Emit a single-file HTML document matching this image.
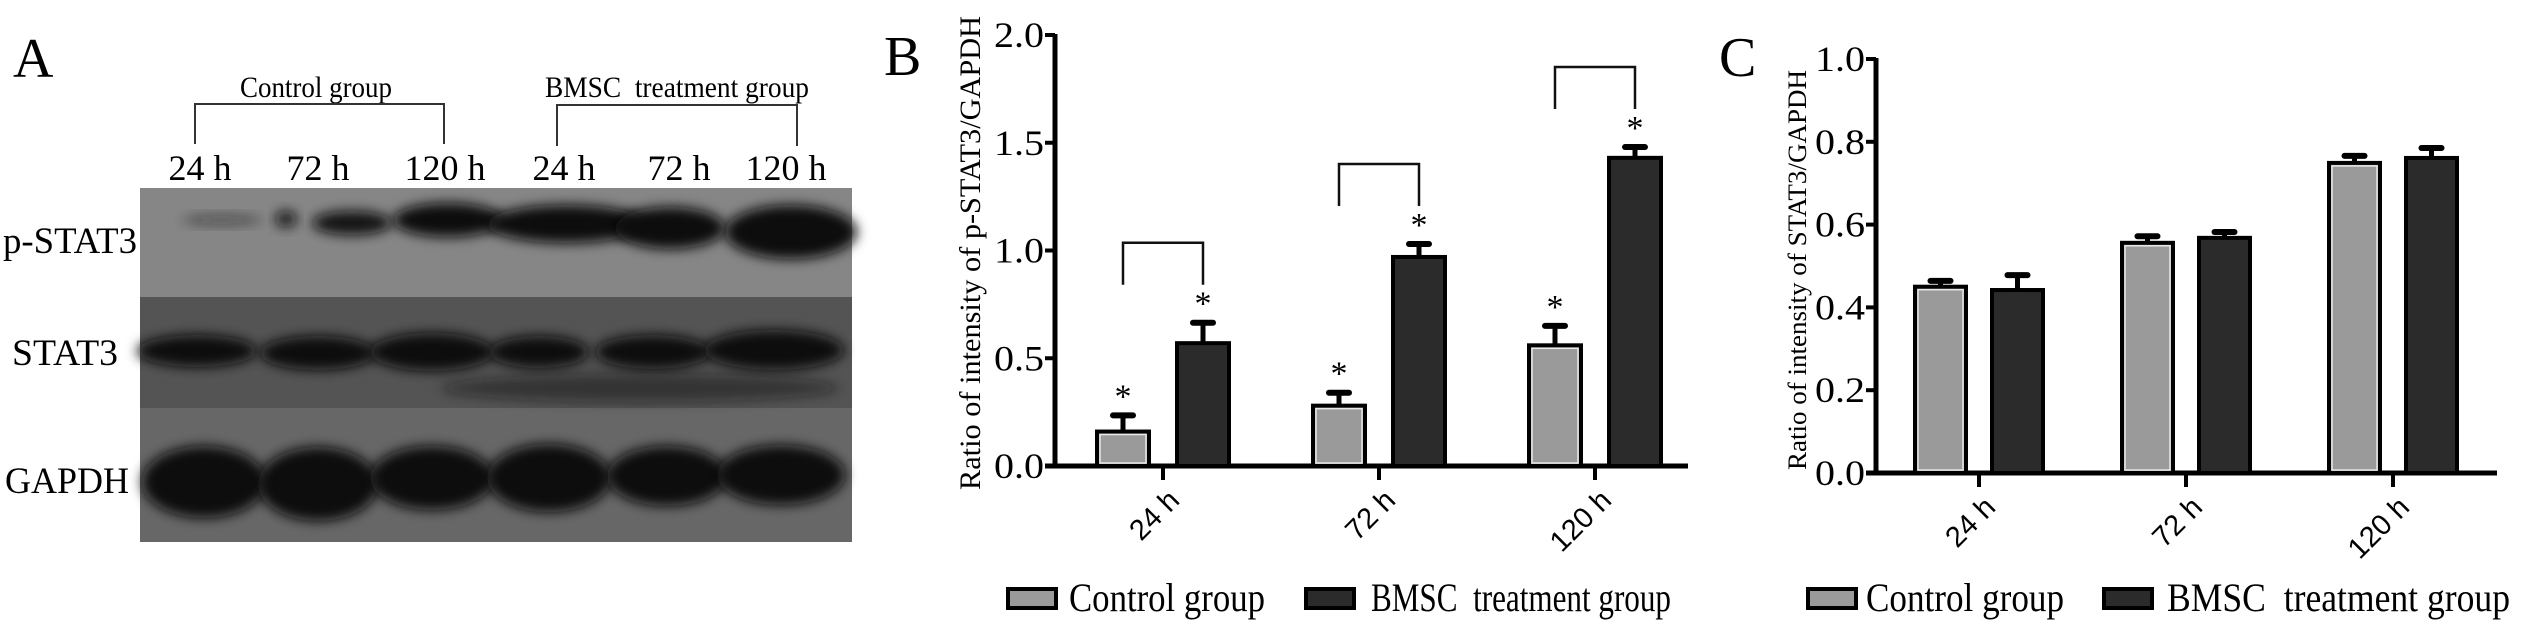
<!DOCTYPE html>
<html><head><meta charset="utf-8">
<style>
html,body{margin:0;padding:0;background:#fff;}
svg{display:block;}
.serif{font-family:"Liberation Serif",serif;}
.sans{font-family:"Liberation Sans",sans-serif;}
.pre{white-space:pre;}
</style></head>
<body>
<svg id="fig" width="2528" height="627" viewBox="0 0 2528 627" xmlns="http://www.w3.org/2000/svg">
<defs>
<filter id="blur6" x="-30%" y="-60%" width="160%" height="220%"><feGaussianBlur stdDeviation="6"/></filter>
</defs>

<g id="panelA">
<text x="13" y="77" class="serif" font-size="56">A</text>
<text x="240" y="97" class="serif" font-size="30" textLength="152" lengthAdjust="spacingAndGlyphs">Control group</text>
<path d="M195,144 V104 H444 V144" fill="none" stroke="#333" stroke-width="2"/>
<text x="545" y="97" class="serif pre" font-size="30" textLength="264" lengthAdjust="spacingAndGlyphs">BMSC  treatment group</text>
<path d="M557,146 V105 H797 V146" fill="none" stroke="#333" stroke-width="2"/>
<g id="laneLabels"></g>
<rect x="140" y="188" width="712" height="109" fill="#868686"/>
<rect x="140" y="297" width="712" height="111" fill="#545454"/>
<rect x="140" y="408" width="712" height="134" fill="#676767"/>
<g id="bands"></g>
<text x="3" y="253" class="serif" font-size="37" textLength="134" lengthAdjust="spacingAndGlyphs">p-STAT3</text>
<text x="12" y="365" class="serif" font-size="37" textLength="106" lengthAdjust="spacingAndGlyphs">STAT3</text>
<text x="5" y="493" class="serif" font-size="37" textLength="124" lengthAdjust="spacingAndGlyphs">GAPDH</text>
</g>

<g id="panelB"></g>
<g id="panelC"></g>
</svg>

<script>
const categories = ["24 h", "72 h", "120 h"];
const seriesNames = ["Control group", "BMSC  treatment group"];
const bControl = [0.16, 0.28, 0.56];
const bBmsc = [0.57, 0.97, 1.43];
const bControlErr = [0.075, 0.06, 0.09];
const bBmscErr = [0.095, 0.06, 0.05];
const bTicks = ["0.0", "0.5", "1.0", "1.5", "2.0"];
const bTickValues = [0, 0.5, 1.0, 1.5, 2.0];
const cControl = [0.45, 0.556, 0.749];
const cBmsc = [0.442, 0.568, 0.761];
const cControlErr = [0.014, 0.016, 0.017];
const cBmscErr = [0.036, 0.014, 0.024];
const cTicks = ["0.0", "0.2", "0.4", "0.6", "0.8", "1.0"];
const cTickValues = [0, 0.2, 0.4, 0.6, 0.8, 1.0];
const laneLabels = ["24 h", "72 h", "120 h", "24 h", "72 h", "120 h"];

const NS = "http://www.w3.org/2000/svg";
function mk(tag, attrs, parent) {
  const e = document.createElementNS(NS, tag);
  for (const k in attrs) e.setAttribute(k, attrs[k]);
  parent.appendChild(e);
  return e;
}

const laneCenters = [200, 318, 445, 564, 679, 786];
const ll = document.getElementById("laneLabels");
laneLabels.forEach((t, i) => {
  const e = mk("text", {x: laneCenters[i], y: 180, "text-anchor": "middle", class: "serif", "font-size": 36}, ll);
  e.textContent = t;
  
  
});

const bandsG = document.getElementById("bands");
const bandList = [
  [222,220,40,5,0.45],[286,219,11,8,0.9],[352,223,40,12,0.95],[448,220,55,17,1],
  [567,224,80,19,1],[670,228,55,21,1],[791,232,66,27,1],
  [197,351,60,16,1],[318,353,58,17,1],[432,352,62,19,1],[539,352,50,16,1],[653,352,58,17,1],[774,350,70,20,1],
  [640,388,200,14,0.45],
  [204,482,62,36,1],[318,484,60,37,1],[432,478,62,32,1],[549,478,62,34,1],[667,476,60,30,1],[781,475,64,30,1]
];
bandList.forEach(b => {
  const e = mk("ellipse", {cx: b[0], cy: b[1], rx: b[2], ry: b[3], fill: "#0a0a0a", opacity: b[4], filter: "url(#blur6)"}, bandsG);
  
  
});

function buildChart(cfg) {
  const g = document.getElementById(cfg.id);
  const yScale = v => cfg.y0 - (v - cfg.vmin) / (cfg.vmax - cfg.vmin) * (cfg.y0 - cfg.y1);
  const lbl = mk("text", {x: cfg.labelX, y: cfg.labelY, class: "serif", "font-size": 56}, g);
  lbl.textContent = cfg.label;
  
  
  const yt = mk("text", {x: 0, y: 0, class: "serif", "font-size": cfg.titleSize, "text-anchor": "middle",
    transform: `translate(${cfg.titleX},${cfg.titleY}) rotate(-90)`, textLength: cfg.titleLen, lengthAdjust: "spacingAndGlyphs"}, g);
  yt.textContent = cfg.title;
  
  
  const ya = mk("line", {x1: cfg.ax, y1: yScale(cfg.vmax) - 1, x2: cfg.ax, y2: cfg.y0 + 2, stroke: "#000", "stroke-width": 5}, g);
  
  
  const xa = mk("line", {x1: cfg.ax - 10, y1: cfg.y0, x2: cfg.axEnd, y2: cfg.y0, stroke: "#000", "stroke-width": 5}, g);
  
  
  cfg.tickValues.forEach((v, i) => {
    const y = yScale(v);
    const t = mk("line", {x1: cfg.ax - 10, y1: y, x2: cfg.ax, y2: y, stroke: "#000", "stroke-width": 4}, g);
    
    
    const tl = mk("text", {x: cfg.ax - 11, y: y + 12, "text-anchor": "end", class: "serif", "font-size": 36, textLength: 50, lengthAdjust: "spacingAndGlyphs"}, g);
    tl.textContent = cfg.ticks[i];
    
    
  });
  const barW = cfg.barW;
  categories.forEach((c, i) => {
    const cx = cfg.catX0 + i * cfg.catStep;
    const t = mk("line", {x1: cx, y1: cfg.y0, x2: cx, y2: cfg.y0 + 14, stroke: "#000", "stroke-width": 4}, g);
    
    
    const xl = mk("text", {x: 0, y: 0, "text-anchor": "end", class: "sans", "font-size": 29,
      transform: `translate(${cx + 18},${cfg.y0 + 36}) rotate(-45)`}, g);
    xl.textContent = c;
    
    
    [[cfg.ctrl, cfg.ctrlErr, "#9a9a9a"], [cfg.bmsc, cfg.bmscErr, "#2b2b2b"]].forEach((s, k) => {
      const v = s[0][i], err = s[1][i];
      const bx = cx + (k === 0 ? -cfg.gap / 2 - barW : cfg.gap / 2);
      const top = yScale(v);
      const et = yScale(v + err);
      const el = mk("line", {x1: bx + barW / 2, y1: top, x2: bx + barW / 2, y2: et, stroke: "#000", "stroke-width": 5}, g);
      
      
      const ec = mk("line", {x1: bx + barW / 2 - 10, y1: et, x2: bx + barW / 2 + 10, y2: et, stroke: "#000", "stroke-width": 6, "stroke-linecap": "round"}, g);
      
      
      const r = mk("rect", {x: bx + 2, y: top, width: barW - 4, height: cfg.y0 - top, fill: s[2], stroke: "#000", "stroke-width": 4}, g);
      
      
      if (k === 0) {
        const hi = mk("rect", {x: bx + 5, y: top + 3, width: barW - 10, height: cfg.y0 - top - 6, fill: "none", stroke: "#e8e8e8", "stroke-width": 1.5}, g);
        
        
      }
      if (cfg.stars) {
        const st = mk("text", {x: bx + barW / 2, y: et - 8, "text-anchor": "middle", class: "serif", "font-size": 34}, g);
        st.textContent = "*";
        
        
      }
    });
    if (cfg.stars) {
      const lx = cx - cfg.gap / 2 - barW / 2, rx = cx + cfg.gap / 2 + barW / 2;
      const rTop = yScale(cfg.bmsc[i] + cfg.bmscErr[i]) - 38;
      const bTop = rTop - 42;
      const p = mk("path", {d: `M${lx},${rTop} V${bTop} H${rx} V${rTop}`, fill: "none", stroke: "#111", "stroke-width": 2.5}, g);
      
      
    }
  });
  const L = cfg.legend;
  const s1 = mk("rect", {x: L.s1, y: 589, width: 48, height: 19, fill: "#9a9a9a", stroke: "#000", "stroke-width": 4}, g);
  
  
  const t1 = mk("text", {x: L.t1, y: 611, class: "serif", "font-size": 40, textLength: L.t1w, lengthAdjust: "spacingAndGlyphs"}, g);
  t1.textContent = seriesNames[0];
  
  
  const s2 = mk("rect", {x: L.s2, y: 589, width: 48, height: 19, fill: "#2b2b2b", stroke: "#000", "stroke-width": 4}, g);
  
  
  const t2 = mk("text", {x: L.t2, y: 611, class: "serif pre", "font-size": 40, textLength: L.t2w, lengthAdjust: "spacingAndGlyphs"}, g);
  t2.textContent = seriesNames[1];
  
  
}

buildChart({
  id: "panelB", label: "B", labelX: 884, labelY: 75,
  title: "Ratio of intensity of p-STAT3/GAPDH", titleX: 980, titleY: 253, titleSize: 30, titleLen: 474,
  ax: 1055, axEnd: 1688, y0: 466, y1: 35, vmin: 0, vmax: 2.0,
  ticks: bTicks, tickValues: bTickValues,
  catX0: 1163, catStep: 216, barW: 56, gap: 24,
  ctrl: bControl, bmsc: bBmsc, ctrlErr: bControlErr, bmscErr: bBmscErr, stars: true,
  legend: {s1: 1008, t1: 1069, t1w: 196, s2: 1306, t2: 1371, t2w: 300}
});
buildChart({
  id: "panelC", label: "C", labelX: 1719, labelY: 76,
  title: "Ratio of intensity of STAT3/GAPDH", titleX: 1806, titleY: 270, titleSize: 26, titleLen: 400,
  ax: 1876, axEnd: 2497, y0: 473, y1: 59, vmin: 0, vmax: 1.0,
  ticks: cTicks, tickValues: cTickValues,
  catX0: 1979, catStep: 207, barW: 55, gap: 22,
  ctrl: cControl, bmsc: cBmsc, ctrlErr: cControlErr, bmscErr: cBmscErr, stars: false,
  legend: {s1: 1808, t1: 1866, t1w: 198, s2: 2104, t2: 2167, t2w: 343}
});
</script>
</body></html>
